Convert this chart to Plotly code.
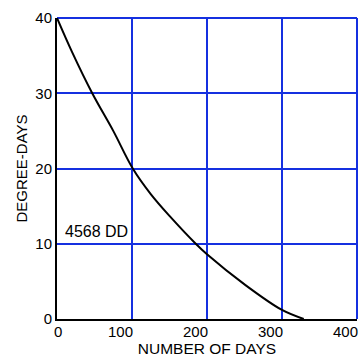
import plotly.graph_objects as go

days = [0, 20, 47, 75, 101, 125, 150, 185, 200, 250, 300, 329]
degree_days = [40, 35.5, 30, 25, 20, 16.6, 13.7, 10, 8.6, 4.6, 1.2, 0]
x_ticks = [0, 100, 200, 300, 400]
y_ticks = [0, 10, 20, 30, 40]
label_text = "4568 DD"
label_pos = (52, 11.6)

blue = "#1530e0"
fam = "Liberation Sans, Arial, sans-serif"
font = dict(family=fam, size=15, color="black")

fig = go.Figure()
fig.add_trace(go.Scatter(x=days, y=degree_days, mode="lines",
                         line=dict(color="black", width=2, shape="spline", smoothing=1),
                         hoverinfo="skip"))
fig.add_annotation(x=label_pos[0], y=label_pos[1], text=label_text, showarrow=False,
                   font=dict(family=fam, size=16, color="black"))
# x tick labels (offset to the left of the gridlines as in the original artwork)
for v in x_ticks:
    fig.add_annotation(x=v, xref="x", y=0, yref="paper", yanchor="top", yshift=-3,
                       xshift=(1 if v == 0 else -12), text=str(v), showarrow=False,
                       borderpad=0, font=dict(family=fam, size=15, color="black"))
# frame on top/right in grid colour
fig.add_shape(type="line", xref="paper", yref="paper", x0=0, x1=1, y0=1, y1=1,
              line=dict(color=blue, width=2), layer="below")
fig.add_shape(type="line", xref="paper", yref="paper", x0=1, x1=1, y0=0, y1=1,
              line=dict(color=blue, width=2), layer="below")

fig.update_layout(
    width=362, height=358,
    margin=dict(l=57, r=5, t=18, b=39),
    paper_bgcolor="white", plot_bgcolor="white",
    showlegend=False, font=font,
)
fig.update_xaxes(range=[0, 400], tickvals=x_ticks, showgrid=True, gridcolor=blue, gridwidth=2,
                 showline=True, linecolor="black", linewidth=2, zeroline=False,
                 ticks="", showticklabels=False,
                 title=dict(text="NUMBER OF DAYS", standoff=23, font=dict(size=15.5)))
fig.update_yaxes(range=[0, 40], tickvals=y_ticks, showgrid=True, gridcolor=blue, gridwidth=2,
                 showline=True, linecolor="black", linewidth=2, zeroline=False,
                 ticks="", tickfont=dict(size=15),
                 title=dict(text="DEGREE-DAYS", standoff=4, font=dict(size=15)))
fig.write_html("out.html", config={"displayModeBar": False, "staticPlot": True},
               post_script="document.body.style.margin='0';")
